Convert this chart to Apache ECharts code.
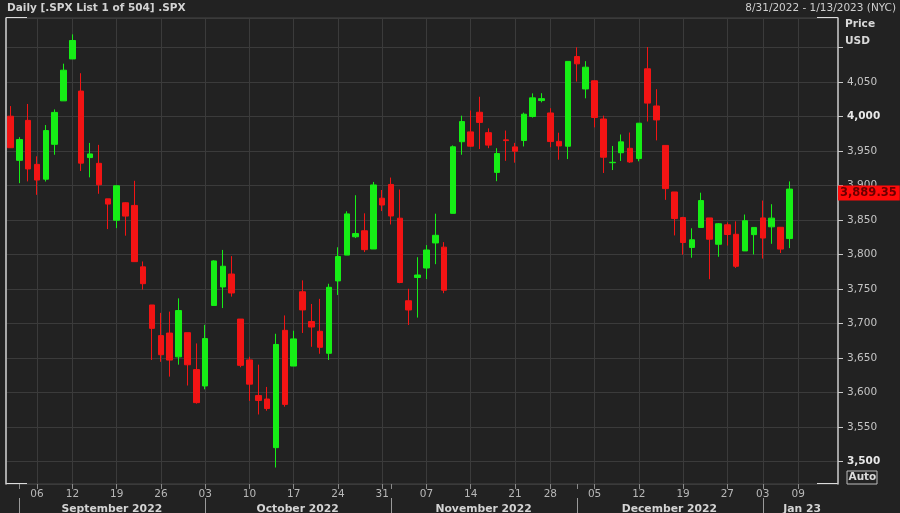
<!DOCTYPE html>
<html><head><meta charset="utf-8">
<script src="https://cdn.jsdelivr.net/npm/echarts@6/dist/echarts.min.js"></script>
<style>html,body{margin:0;padding:0;background:#222222;}#c{width:900px;height:513px;}</style>
</head><body><div id="c"></div>
<script>
// ---- DATA ----
const dates = [
 '2022-08-31','2022-09-01','2022-09-02','2022-09-06','2022-09-07','2022-09-08','2022-09-09',
 '2022-09-12','2022-09-13','2022-09-14','2022-09-15','2022-09-16',
 '2022-09-19','2022-09-20','2022-09-21','2022-09-22','2022-09-23',
 '2022-09-26','2022-09-27','2022-09-28','2022-09-29','2022-09-30',
 '2022-10-03','2022-10-04','2022-10-05','2022-10-06','2022-10-07',
 '2022-10-10','2022-10-11','2022-10-12','2022-10-13','2022-10-14',
 '2022-10-17','2022-10-18','2022-10-19','2022-10-20','2022-10-21',
 '2022-10-24','2022-10-25','2022-10-26','2022-10-27','2022-10-28',
 '2022-10-31','2022-11-01','2022-11-02','2022-11-03','2022-11-04',
 '2022-11-07','2022-11-08','2022-11-09','2022-11-10','2022-11-11',
 '2022-11-14','2022-11-15','2022-11-16','2022-11-17','2022-11-18',
 '2022-11-21','2022-11-22','2022-11-23','2022-11-25',
 '2022-11-28','2022-11-29','2022-11-30','2022-12-01','2022-12-02',
 '2022-12-05','2022-12-06','2022-12-07','2022-12-08','2022-12-09',
 '2022-12-12','2022-12-13','2022-12-14','2022-12-15','2022-12-16',
 '2022-12-19','2022-12-20','2022-12-21','2022-12-22','2022-12-23',
 '2022-12-27','2022-12-28','2022-12-29','2022-12-30',
 '2023-01-03','2023-01-04','2023-01-05','2023-01-06',
 '2023-01-09','2023-01-10','2023-01-11','2023-01-12','2023-01-13'
];
const openP = [4000.67,3936.73,3994.66,3930.89,3909.43,3959.94,4022.94,
 4083.67,4037.12,3940.73,3932.41,3880.95,
 3849.91,3875.23,3871.40,3782.36,3727.14,
 3682.72,3686.44,3651.94,3687.01,3633.48,
 3609.78,3726.46,3753.25,3771.97,3706.74,
 3647.51,3595.86,3590.83,3520.37,3690.41,
 3638.65,3746.26,3703.11,3689.05,3657.10,
 3762.01,3799.44,3825.97,3834.69,3808.26,
 3881.85,3901.79,3852.90,3733.25,3766.98,
 3780.71,3817.02,3810.94,3859.89,3963.72,
 3977.97,4006.41,3976.82,3919.26,3966.39,
 3956.23,3965.51,4000.30,4023.34,
 4005.36,3964.19,3957.18,4087.14,4040.17,
 4052.02,3996.63,3933.28,3947.79,3954.17,
 3939.29,4069.38,4015.54,3958.37,3890.91,
 3853.79,3810.47,3839.49,3853.26,3815.11,
 3843.34,3829.56,3805.45,3829.06,
 3853.29,3840.36,3839.74,3823.37];
const highP = [4015.37,3970.23,4018.43,3942.55,3987.89,4010.50,4076.81,
 4119.28,4062.99,3961.94,3959.14,3880.95,
 3900.45,3876.01,3907.07,3790.20,3727.14,
 3715.67,3717.53,3736.74,3687.01,3671.44,
 3698.35,3791.92,3806.91,3797.93,3706.74,
 3652.17,3640.66,3608.34,3685.41,3712.00,
 3689.73,3762.79,3728.58,3736.00,3757.89,
 3810.74,3862.85,3886.15,3859.95,3905.42,
 3893.73,3911.79,3894.44,3750.59,3796.34,
 3813.95,3859.40,3818.20,3958.33,4001.48,
 4008.97,4028.84,3983.09,3954.33,3979.89,
 3962.00,4005.88,4033.78,4034.02,
 4012.27,3976.77,4080.11,4100.51,4080.48,
 4052.45,4001.51,3957.57,3974.19,3977.02,
 3990.71,4100.96,4039.76,3958.37,3890.91,
 3854.86,3838.24,3889.82,3853.26,3845.80,
 3846.65,3848.32,3858.19,3839.85,
 3878.46,3873.16,3839.74,3906.19];
const lowP = [3954.53,3903.65,3906.21,3886.75,3906.03,3944.81,4022.94,
 4083.67,3921.31,3912.11,3888.28,3837.08,
 3838.50,3827.54,3789.49,3749.45,3647.47,
 3644.76,3623.29,3640.61,3610.40,3584.13,
 3604.93,3726.46,3722.66,3739.22,3636.87,
 3588.10,3568.45,3573.86,3491.58,3579.68,
 3638.65,3686.53,3666.51,3656.44,3647.42,
 3741.65,3799.44,3824.07,3803.79,3808.26,
 3863.18,3843.80,3758.68,3698.15,3708.84,
 3764.70,3786.28,3744.22,3859.89,3944.82,
 3956.40,3953.17,3954.34,3906.54,3935.98,
 3933.34,3956.88,3998.66,4020.76,
 3955.77,3937.65,3938.58,4050.87,4026.63,
 3984.49,3918.39,3922.68,3935.83,3933.04,
 3935.30,3993.03,3965.65,3879.45,3827.91,
 3800.04,3795.62,3839.49,3764.49,3797.01,
 3813.22,3780.78,3805.45,3800.34,
 3794.33,3815.77,3802.42,3809.56];
const closeP = [3955.00,3966.85,3924.26,3908.19,3979.87,4006.18,4067.36,
 4110.41,3932.69,3946.01,3901.35,3873.33,
 3899.89,3855.93,3789.93,3757.99,3693.23,
 3655.04,3647.29,3719.04,3640.47,3585.62,
 3678.43,3790.93,3783.28,3744.52,3639.66,
 3612.39,3588.84,3577.03,3669.91,3583.07,
 3677.95,3719.98,3695.16,3665.78,3752.75,
 3797.34,3859.11,3830.60,3807.30,3901.06,
 3871.98,3856.10,3759.69,3719.89,3770.55,
 3806.80,3828.11,3748.57,3956.37,3992.93,
 3957.25,3991.73,3958.79,3946.56,3965.34,
 3949.94,4003.58,4027.26,4026.12,
 3963.94,3957.63,4080.11,4076.57,4071.70,
 3998.84,3941.26,3933.92,3963.51,3934.38,
 3990.56,4019.65,3995.32,3895.75,3852.36,
 3817.66,3821.62,3878.44,3822.39,3844.82,
 3829.25,3783.22,3849.28,3839.50,
 3824.14,3852.97,3808.10,3895.08];
const monthLabels = {'2022-09':'September 2022','2022-10':'October 2022','2022-11':'November 2022','2022-12':'December 2022','2023-01':'Jan 23'};
const lastPrice = 3889.35;
const lastPriceText = '3,889.35';
const titleText = 'Daily [.SPX List 1 of 504] .SPX';
const rangeText = '8/31/2022 - 1/13/2023 (NYC)';
const axisTitle = ['Price','USD'];
const yMin = 3467.7, yMax = 4143;
const hiddenYLabels = [4100];

// ---- LAYOUT ----
const G = {left:6, top:18, right:62, bottom:29};
const W = 900, H = 513;
const FONT = '"DejaVu Sans", Verdana, sans-serif';

function dow(s){const p=s.split('-');return new Date(+p[0],+p[1]-1,+p[2]).getDay();}
const weekStart = dates.map((d,i)=> i>0 && dow(d) < dow(dates[i-1]));
const monthStart = dates.map((d,i)=> i>0 && d.slice(0,7)!==dates[i-1].slice(0,7));
const monthMid = dates.map(()=>false);
(function(){
  const groups = {};
  dates.forEach((d,i)=>{const k=d.slice(0,7);(groups[k]=groups[k]||[]).push(i);});
  Object.keys(groups).forEach(k=>{ if(monthLabels[k]){const g=groups[k];monthMid[Math.floor((g[0]+g[g.length-1])/2)]=true;} });
})();

const ohlc = openP.map((o,i)=>[o, closeP[i], lowP[i], highP[i]]);

function fmtNum(v){return v.toLocaleString('en-US');}

const chart = echarts.init(document.getElementById('c'), null, {renderer:'canvas'});
const xR = W - G.right, yB = H - G.bottom;
const cornerLen = 21;
chart.setOption({
  backgroundColor:'#222222',
  animation:false,
  grid:{left:G.left, right:G.right, top:G.top, bottom:G.bottom, outerBoundsMode:'none', containLabel:false,
    show:true, borderColor:'#454545', borderWidth:1, backgroundColor:'transparent'},
  xAxis:[{
    type:'category', data:dates, boundaryGap:true, position:'bottom',
    axisLine:{show:false},
    axisTick:{show:true, alignWithLabel:true, length:5, lineStyle:{color:'#8a8a8a'},
      interval:(i)=> weekStart[i] || monthStart[i]},
    axisLabel:{interval:(i)=>weekStart[i], formatter:(v)=>v.slice(8,10), color:'#b8b8b8', fontFamily:FONT, fontSize:10.5, margin:5},
    splitLine:{show:true, alignWithLabel:true, interval:(i)=>weekStart[i], lineStyle:{color:'#3b3b3b', width:1}}
  },{
    type:'category', data:dates, boundaryGap:true, position:'bottom', offset:14,
    axisLine:{show:false},
    axisTick:{show:true, alignWithLabel:true, length:15, lineStyle:{color:'#9a9a9a'}, interval:(i)=>monthStart[i]},
    axisLabel:{interval:(i)=>monthMid[i], formatter:(v)=>monthLabels[v.slice(0,7)]||'', color:'#d4d4d4', fontFamily:FONT, fontSize:10.8, fontWeight:'bold', margin:6, padding:[0,0,0,8]},
    splitLine:{show:false}
  }],
  yAxis:[{
    type:'value', position:'right', min:yMin, max:yMax, splitNumber:13, scale:true,
    axisLine:{show:true, lineStyle:{color:'#c8c8c8', width:1.5}},
    axisTick:{show:true, length:5, lineStyle:{color:'#c8c8c8'}},
    axisLabel:{show:true, showMinLabel:false, showMaxLabel:false, color:'#c4c4c4', fontFamily:FONT, fontSize:10.5, margin:9,
      formatter:function(v){
        if (Math.abs(v/50 - Math.round(v/50))>1e-6) return '';
        if (hiddenYLabels.indexOf(Math.round(v))>=0) return '';
        const s = fmtNum(Math.round(v));
        return (Math.round(v)%500===0) ? '{b|'+s+'}' : s;
      },
      rich:{b:{fontWeight:'bold', color:'#e8e8e8', fontFamily:FONT, fontSize:10.5}}
    },
    splitLine:{show:true, lineStyle:{color:'#3b3b3b', width:1}}
  },{
    type:'value', position:'left', min:yMin, max:yMax,
    axisLine:{show:true, lineStyle:{color:'#d0d0d0', width:1.5}},
    axisTick:{show:false}, axisLabel:{show:false}, splitLine:{show:false}
  }],
  series:[{
    type:'candlestick', xAxisIndex:0, yAxisIndex:0, data:ohlc, barWidth:6, clip:false,
    itemStyle:{color:'#16ee16', color0:'#f21414', borderColor:'#16ee16', borderColor0:'#f21414', borderWidth:1},
    markLine:{
      silent:true, symbol:['none','none'], animation:false, z:10,
      lineStyle:{color:'rgba(0,0,0,0)', width:1, type:'solid'},
      label:{show:true, position:'end', distance:0, formatter:lastPriceText, opacity:1,
        backgroundColor:'#ff0a0a', color:'#6a0000', fontWeight:'bold', fontFamily:FONT, fontSize:11.5, padding:[2,3,1,2]},
      emphasis:{disabled:true},
      data:[{yAxis:lastPrice}]
    }
  }],
  graphic:[
    {type:'text', left:7, top:3, style:{text:titleText, fill:'#d2d2d2', font:'bold 10.5px '+FONT}},
    {type:'text', right:4, top:3, style:{text:rangeText, fill:'#cfcfcf', font:'10.5px '+FONT}},
    {type:'text', left:xR+7, top:19, style:{text:axisTitle[0], fill:'#d8d8d8', font:'bold 10.6px '+FONT}},
    {type:'text', left:xR+7, top:36, style:{text:axisTitle[1], fill:'#d8d8d8', font:'bold 10.6px '+FONT}},
    {type:'rect', shape:{x:xR+9, y:yB-13, width:30, height:13}, style:{fill:'none', stroke:'#bdbdbd', lineWidth:1}},
    {type:'text', x:xR+10.5, y:yB-12, style:{text:'Auto', fill:'#dcdcdc', font:'bold 10.5px '+FONT}},
    {type:'line', shape:{x1:G.left, y1:G.top, x2:G.left+cornerLen, y2:G.top}, style:{stroke:'#dcdcdc', lineWidth:2}},
    {type:'line', shape:{x1:xR-cornerLen, y1:G.top, x2:xR, y2:G.top}, style:{stroke:'#dcdcdc', lineWidth:2}},
    {type:'line', shape:{x1:G.left, y1:yB, x2:G.left+cornerLen, y2:yB}, style:{stroke:'#dcdcdc', lineWidth:2}},
    {type:'line', shape:{x1:xR-cornerLen, y1:yB, x2:xR, y2:yB}, style:{stroke:'#dcdcdc', lineWidth:2}}
  ]
});
</script></body></html>
